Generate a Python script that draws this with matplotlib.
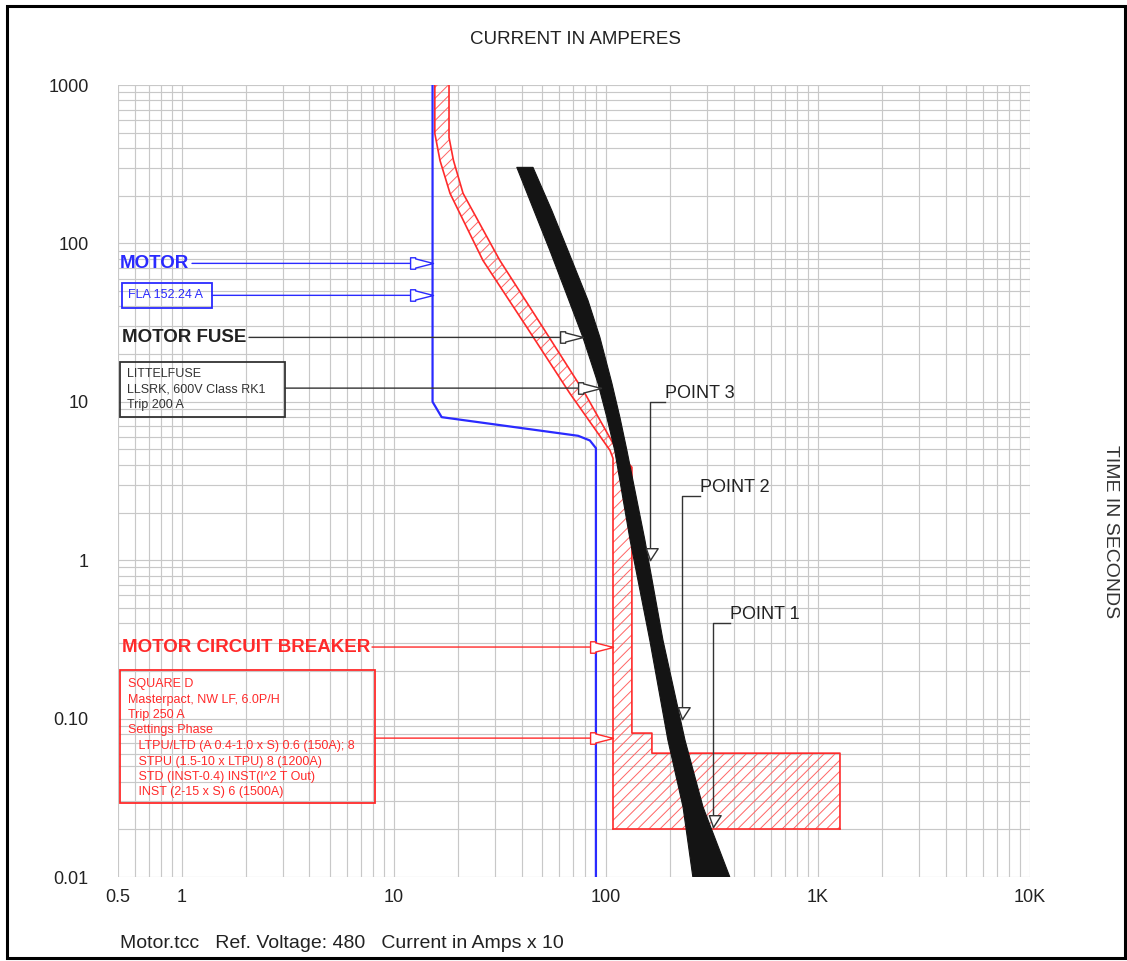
import matplotlib
matplotlib.use("Agg")
import matplotlib.pyplot as plt
from matplotlib.path import Path
from matplotlib.patches import Rectangle
from matplotlib.transforms import Affine2D, IdentityTransform, blended_transform_factory
from matplotlib.ticker import FixedLocator, FixedFormatter, LogLocator, NullFormatter

plt.rcParams["font.family"] = ["Liberation Sans", "DejaVu Sans"]
plt.rcParams["hatch.linewidth"] = 0.7

W, H = 1127, 961

# ---- axis ticks -------------------------------------------------------------
x_ticks = [0.5, 1, 10, 100, 1000, 10000]
x_tick_labels = ["0.5", "1", "10", "100", "1K", "10K"]
y_ticks = [0.01, 0.1, 1, 10, 100, 1000]
y_tick_labels = ["0.01", "0.10", "1", "10", "100", "1000"]

# ---- motor starting curve (current x10, seconds) ----------------------------
motor_i = [15.22, 15.22, 16.8, 74.0, 84.0, 89.7, 89.7]
motor_t = [1000, 10.0, 8.0, 6.1, 5.7, 5.1, 0.01]

# ---- motor fuse band: minimum melting / total clearing ----------------------
fuse_min_i = [38.0, 45.8, 54.4, 66.9, 77.9, 91.7, 101, 110, 130, 161, 196, 231, 257]
fuse_min_t = [302, 161, 90.3, 43.7, 25.5, 13.1, 7.99, 4.94, 1.34, 0.313, 0.0732, 0.0277, 0.01]
fuse_max_i = [45.3, 55.6, 66.2, 82.3, 93.7, 106.7, 116.4, 125.6, 152.7, 185.8, 236, 287, 384]
fuse_max_t = [302, 161, 90.3, 43.7, 25.5, 13.1, 7.99, 4.94, 1.34, 0.313, 0.0732, 0.0277, 0.01]

# ---- motor circuit breaker band ---------------------------------------------
breaker_min_i = [15.6, 15.6, 16.5, 18.4, 26.3, 42.4, 67.6, 104.5, 108, 108]
breaker_min_t = [1000, 494, 334, 207, 78.1, 29.5, 11.3, 4.94, 4.4, 0.0201]
breaker_max_i = [18.2, 18.2, 19.1, 21.2, 31.6, 50.4, 79.6, 112.7, 132.6, 132.6,
                 164.8, 164.8, 1270, 1270]
breaker_max_t = [1000, 466, 334, 207, 78.1, 29.5, 11.3, 4.94, 3.86, 0.081,
                 0.081, 0.0605, 0.0605, 0.0201]

# ---- labelled check points on the fuse clearing curve -----------------------
point_labels = ["POINT 3", "POINT 2", "POINT 1"]
point_i = [161, 228, 320]
point_t = [1.0, 0.1, 0.0207]
point_leader_t = [10.0, 2.53, 0.40]
point_text_i = [190, 277, 385]

fla_amps = 152.24
breaker_lines = [
    "SQUARE D",
    "Masterpact, NW LF, 6.0P/H",
    "Trip 250 A",
    "Settings Phase",
    "   LTPU/LTD (A 0.4-1.0 x S) 0.6 (150A); 8",
    "   STPU (1.5-10 x LTPU) 8 (1200A)",
    "   STD (INST-0.4) INST(I^2 T Out)",
    "   INST (2-15 x S) 6 (1500A)",
]
fuse_lines = ["LITTELFUSE", "LLSRK, 600V Class RK1", "Trip 200 A"]

BLUE = "#2a2aff"
RED = "#ff2a2a"
BLACK = "#141414"

fig = plt.figure(figsize=(W / 100, H / 100), dpi=100)
ax = fig.add_axes([118 / W, (H - 877) / H, (1030 - 118) / W, (877 - 85) / H])
ax.set_xscale("log")
ax.set_yscale("log")
ax.set_xlim(0.5, 10000)
ax.set_ylim(0.01, 1000)

ax.xaxis.set_major_locator(FixedLocator(x_ticks))
ax.xaxis.set_major_formatter(FixedFormatter(x_tick_labels))
ax.yaxis.set_major_locator(FixedLocator(y_ticks))
ax.yaxis.set_major_formatter(FixedFormatter(y_tick_labels))
for axis in (ax.xaxis, ax.yaxis):
    axis.set_minor_locator(LogLocator(base=10, subs=range(1, 10), numticks=20))
    axis.set_minor_formatter(NullFormatter())
ax.tick_params(which="both", length=0, labelsize=13, colors="#222222")
ax.tick_params(axis="x", pad=9)
ax.tick_params(axis="y", pad=21)
ax.grid(which="both", color="#c8c8c8", lw=0.85)
ax.set_axisbelow(True)
for s in ax.spines.values():
    s.set_visible(False)

# breaker band: hatched fill plus outline
ax.fill(breaker_min_i + breaker_max_i[::-1], breaker_min_t + breaker_max_t[::-1],
        facecolor="none", edgecolor="#ff6464", hatch="///", linewidth=0, zorder=2)
ax.plot(breaker_min_i, breaker_min_t, color=RED, lw=1.2, zorder=3)
ax.plot(breaker_max_i, breaker_max_t, color=RED, lw=1.2, zorder=3)
ax.plot([breaker_min_i[-1], breaker_max_i[-1]], [breaker_min_t[-1], breaker_max_t[-1]],
        color=RED, lw=1.2, zorder=3)

# motor curve
ax.plot(motor_i, motor_t, color=BLUE, lw=1.6, zorder=4)

# fuse band
ax.fill(fuse_min_i + fuse_max_i[::-1], fuse_min_t + fuse_max_t[::-1],
        facecolor=BLACK, edgecolor=BLACK, lw=0.8, joinstyle="round", zorder=5)

# ---- annotation helpers -----------------------------------------------------
px = Affine2D().scale(1, -1).translate(0, H)          # pixel grid, origin top-left
xpx_ydata = blended_transform_factory(IdentityTransform(), ax.transData)

right_arrow = Path([(0, 0), (-0.78, 0.2), (-0.78, 0.25), (-1, 0.25), (-1, -0.25),
                    (-0.78, -0.25), (-0.78, -0.2), (0, 0)],
                   [Path.MOVETO] + [Path.LINETO] * 6 + [Path.CLOSEPOLY])
down_arrow = Path([(0, 0), (-0.35, 1), (0.65, 1), (0, 0)],
                  [Path.MOVETO, Path.LINETO, Path.LINETO, Path.CLOSEPOLY])


def leader(x_start_px, tip_i, tip_t, color):
    ax.annotate("", xy=(tip_i, tip_t), xycoords="data",
                xytext=(x_start_px, tip_t), textcoords=xpx_ydata,
                arrowprops=dict(arrowstyle="-", color=color, lw=1.0,
                                shrinkA=0, shrinkB=0), zorder=6)
    ax.plot([tip_i], [tip_t], marker=right_arrow, ms=33, mfc="white", mec=color,
            mew=1.0, zorder=7, clip_on=False)


def box(x0, y0, x1, y1, color):
    fig.add_artist(Rectangle((x0, y0), x1 - x0, y1 - y0, transform=px,
                             fill=False, ec=color, lw=1.3))


# MOTOR
motor_label_t = 74.8
ax.text(120, motor_label_t, "MOTOR", transform=xpx_ydata, ha="left", va="center",
        fontsize=13.5, weight="bold", color=BLUE)
leader(192, motor_i[0], motor_label_t, BLUE)

fla_t = 47.0
box(122, 283, 212, 308, BLUE)
ax.text(128, fla_t, f"FLA {fla_amps:.2f} A", transform=xpx_ydata, ha="left",
        va="center", fontsize=9, color=BLUE)
leader(212, motor_i[0], fla_t, BLUE)

# MOTOR FUSE
fuse_label_t = 25.5
ax.text(122, fuse_label_t, "MOTOR FUSE", transform=xpx_ydata, ha="left", va="center",
        fontsize=13.5, weight="bold", color="#222222")
leader(249, fuse_min_i[4], fuse_label_t, "#333333")

fuse_box_t = 12.2
box(120, 362, 285, 417, "#333333")
for k, line in enumerate(fuse_lines):
    fig.text(127 / W, 1 - (374 + 15.5 * k) / H, line, ha="left", va="center",
             fontsize=9, color="#333333")
leader(285, 95.0, fuse_box_t, "#333333")

# MOTOR CIRCUIT BREAKER
mcb_t = 0.283
ax.text(122, mcb_t, "MOTOR CIRCUIT BREAKER", transform=xpx_ydata, ha="left",
        va="center", fontsize=13.5, weight="bold", color=RED)
leader(372, breaker_min_i[-1], mcb_t, RED)

settings_t = 0.0753
box(120, 670, 375, 803, RED)
for k, line in enumerate(breaker_lines):
    fig.text(128 / W, 1 - (684 + 15.5 * k) / H, line, ha="left", va="center",
             fontsize=9, color=RED)
leader(375, breaker_min_i[-1], settings_t, RED)

# check points
for lab, pi, pt, lt, ti in zip(point_labels, point_i, point_t, point_leader_t, point_text_i):
    ax.plot([pi, pi, ti], [pt, lt, lt], color="#333333", lw=1.0, zorder=6)
    ax.plot([pi], [pt], marker=down_arrow, ms=17, mfc="white", mec="#333333",
            mew=1.0, zorder=7)
    ax.annotate(lab, xy=(ti, lt), xytext=(0, 0), textcoords="offset points",
                ha="left", va="bottom", fontsize=13, color="#222222", zorder=8)

# ---- titles and frame -------------------------------------------------------
fig.text(575 / W, 1 - 40 / H, "CURRENT IN AMPERES", ha="center", va="center",
         fontsize=13.5, color="#222222")
fig.text(1110 / W, 1 - 532 / H, "TIME IN SECONDS", ha="center", va="center",
         rotation=270, fontsize=14, color="#333333")
fig.text(120 / W, 1 - 943 / H, "Motor.tcc   Ref. Voltage: 480   Current in Amps x 10",
         ha="left", va="center", fontsize=14, color="#222222")
fig.add_artist(Rectangle((6.5, 5.5), 1118, 952, transform=px, fill=False,
                         ec="black", lw=2.2))

fig.savefig("out.png", dpi=100)
